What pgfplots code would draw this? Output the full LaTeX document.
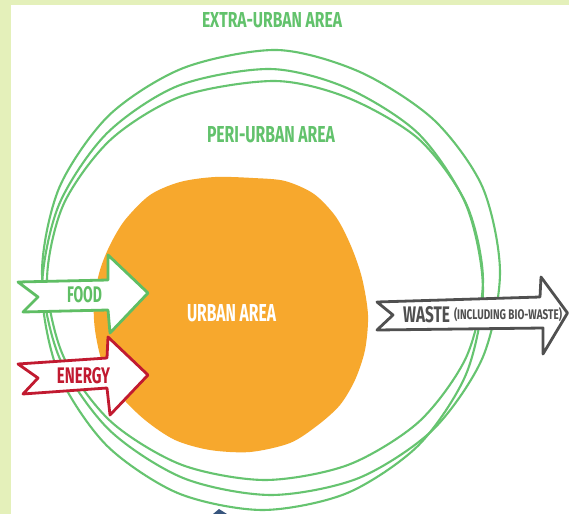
\documentclass[border=0pt]{standalone}
\usepackage{pgfplots}
\pgfplotsset{compat=1.18}
\usepackage{fontspec}
\setmainfont{Fira Sans}
\usepackage{graphicx}

\definecolor{bgc}{RGB}{228,240,186}
\definecolor{ring}{RGB}{102,196,112}
\definecolor{gtext}{RGB}{98,194,108}
\definecolor{garrow}{RGB}{95,190,100}
\definecolor{rarrow}{RGB}{193,26,48}
\definecolor{gray}{RGB}{80,80,80}
\definecolor{orng}{RGB}{247,168,45}
\definecolor{navy}{RGB}{55,85,125}

\newcommand{\lab}[3]{\resizebox{#1bp}{#2bp}{\bfseries #3}}

\begin{document}
\begin{tikzpicture}
\begin{axis}[scale only axis, width=569bp, height=514bp,
  xmin=0, xmax=569, ymin=0, ymax=514, y dir=reverse, hide axis, clip=false,
  every node/.append style={inner sep=0pt}]
% background
\addplot[fill=bgc, draw=none] coordinates {(0,0)(569,0)(569,514)(0,514)} -- cycle;
\addplot[fill=white, draw=none] coordinates {(11,5)(569,5)(569,514)(11,514)} -- cycle;
% rings
\addplot[smooth cycle, draw=ring, line width=2.1bp] coordinates {
(500,272.5)(482.6,187.3)(434,120)(360,72)(277,50)(183.4,68)(109.1,115.2)(59.4,187.3)
(42,272.5)(59.4,357.7)(109.1,429.8)(183.4,478.1)(271,495)(358.6,478.1)(432.9,429.8)(482.6,357.7)};
\addplot[smooth cycle, draw=ring, line width=2.1bp] coordinates {
(483,289.5)(466.2,205.1)(418.4,133.6)(346.9,88)(270,69)(178.1,85.8)(106.6,133.6)(58.8,205.1)
(42,289.5)(58.8,373.9)(106.6,445.4)(178.1,493.2)(262.5,510)(346.9,493.2)(418.4,445.4)(466.2,373.9)};
\addplot[smooth cycle, draw=ring, line width=2.1bp] coordinates {
(483,280.5)(466.4,204.2)(419.1,139.4)(348.4,98)(275,81)(181.6,96.2)(110.9,139.4)(63.6,204.2)
(47,280.5)(63.6,356.8)(110.9,421.6)(181.6,464.8)(265,480)(348.4,464.8)(419.1,421.6)(466.4,356.8)};
% urban blob
\addplot[smooth cycle, fill=orng, draw=none] coordinates {
(215,177)(253,178)(285,181)(314,194)(336,217)(351,246)(362,278)(368,315)(365,350)(355,380)
(340,405)(318,425)(290,443)(250,452)(210,450)(175,440)(145,420)(120,395)(103,365)(95,330)
(94,300)(100,270)(110,245)(125,220)(150,195)(180,182)};
% small cut-off shape at bottom
\addplot[fill=navy, draw=none] coordinates {(213,514)(219,509)(227,514)} -- cycle;
% arrows
\addplot[fill=white, draw=garrow, line width=2.8bp, line join=round] coordinates {
(18,282)(108,280)(108,255)(148,293)(110,333)(108,310)(23,312)(38,297)} -- cycle;
\addplot[fill=white, draw=rarrow, line width=2.8bp, line join=round] coordinates {
(18,364)(107,358)(108,337)(148,375)(110,415)(107,388)(23,394)(38,378)} -- cycle;
\addplot[fill=white, draw=gray, line width=2.8bp, line join=round] coordinates {
(377,302)(540,297)(541,277)(567.5,313)(543,354)(543,328)(377,330)(393,315)} -- cycle;
% labels
\node[text=gtext] at (axis cs:272,20.5) {\lab{140}{15}{EXTRA-URBAN AREA}};
\node[text=gtext] at (axis cs:271,135) {\lab{128}{16}{PERI-URBAN AREA}};
\node[text=white] at (axis cs:231.5,313.5) {\lab{89}{17}{URBAN AREA}};
\node[text=garrow] at (axis cs:84.5,295) {\lab{35}{16}{FOOD}};
\node[text=rarrow] at (axis cs:83.5,376) {\lab{53}{16}{ENERGY}};
\node[text=gray] at (axis cs:426.5,315) {\lab{47}{16}{WASTE}};
\node[text=gray] at (axis cs:508,315) {\lab{108}{12}{(INCLUDING BIO-WASTE)}};
\end{axis}
\end{tikzpicture}
\end{document}
